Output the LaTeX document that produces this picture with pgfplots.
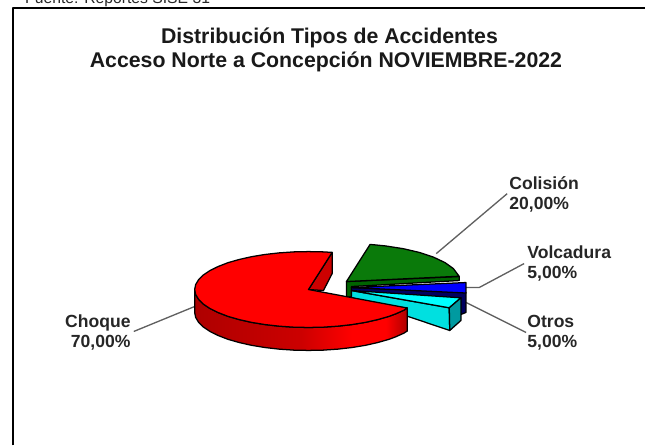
\documentclass[border=0pt]{standalone}
\usepackage{pgfplots}
\pgfplotsset{compat=1.18}
\usepackage{fontspec}
\setmainfont{Liberation Sans}
\definecolor{gTop}{HTML}{0A7A0A}
\definecolor{gDark}{HTML}{006400}
\definecolor{navy}{HTML}{000060}
\definecolor{tur}{HTML}{00E0E0}
\definecolor{bright}{HTML}{00FFFF}
\definecolor{teal2}{HTML}{009AA0}
\definecolor{pure}{HTML}{FF0000}
\definecolor{rd}{HTML}{AE0000}
\definecolor{rm}{HTML}{CC0000}
\pgfdeclarehorizontalshading{redside}{100bp}{
 color(0bp)=(rd); color(25bp)=(rd); color(50bp)=(rm);
 color(62bp)=(pure); color(70bp)=(pure); color(75bp)=(rd); color(100bp)=(rd)}
\begin{document}
\begin{tikzpicture}[x=0.75pt,y=0.75pt]
\begin{axis}[
  at={(0,0)},anchor=south west,
  width=484.5pt,height=334.5pt,scale only axis,
  xmin=0,xmax=646,ymin=0,ymax=446,y dir=reverse,
  axis lines=none,clip=false,
  every axis plot/.append style={line join=round,line width=0.95pt}]
% frame
\addplot[black,line width=1.6pt] coordinates {(13,446)(13,8)(646,8)};
% leader lines
\addplot[gray!75!black,line width=1pt] coordinates {(437,254)(508,194)};
\addplot[gray!75!black,line width=1pt] coordinates {(467,288)(480,288)(525,264)};
\addplot[gray!75!black,line width=1pt] coordinates {(467,303)(527,333)};
\addplot[gray!75!black,line width=1pt] coordinates {(195,307)(134,332)};
% Colision
\addplot[fill=gDark,draw=black] coordinates {(347,282)(460,277)(460,281)(352,287)(352,297)(347,298)} --cycle;
\addplot[fill=gTop,draw=black] coordinates {(347,282)(370.7,244.8)(386,246.3)(404,249.1)(420.3,252.9)(434.3,257.6)(445.7,263)(454.1,269)(459.9,276.7)} --cycle;
% Volcadura
\addplot[fill=navy,draw=black] coordinates {(352,288)(466.7,293)(466.7,313)(461.7,315)(352,298)} --cycle;
\addplot[fill=blue,draw=black] coordinates {(352,288)(466.7,283)(466.7,293.5)} --cycle;
% Otros
\addplot[fill=tur,draw=black] coordinates {(352,291)(450,308.3)(450.5,331)(352,298)} --cycle;
\addplot[fill=bright,draw=black] coordinates {(352,291)(461.7,298.3)(450,308.3)} --cycle;
\addplot[fill=teal2,draw=black] coordinates {(450,308.3)(461.7,298.3)(461.7,321)(450.5,331)} --cycle;
% Choque
\addplot[fill=rm,draw=black] coordinates {(332.7,252.8)(332.7,274)(324,291)(309,290)} --cycle;
\addplot[shade,shading=redside,draw=black] coordinates {(195,290)(196,295)(198.9,299.8)(203.7,304.6)(210.3,309)(218.6,313.1)(228.4,316.9)(239.6,320.1)(252,322.9)(265.4,325.1)(279.5,326.7)(294.1,327.7)(309,328)(323.9,327.7)(338.5,326.7)(352.7,325.1)(366,322.9)(378.4,320.1)(389.6,316.9)(396.3,314.4)(404.6,310.7)(408,308.5)(408,331.5)(404.6,333.7)(396.3,337.4)(389.6,339.9)(378.4,343.1)(366,345.9)(352.7,348.1)(338.5,349.7)(323.9,350.7)(309,351)(294.1,350.7)(279.5,349.7)(265.4,348.1)(252,345.9)(239.6,343.1)(228.4,339.9)(218.6,336.1)(210.3,332)(203.7,327.6)(198.9,322.8)(196,318)(195,313)} --cycle;
\addplot[fill=pure,draw=black] coordinates {(309,290)(332.7,252.8)(323.9,252.3)(309,252)(294.1,252.3)(279.5,253.3)(265.4,254.9)(252,257.1)(239.6,259.9)(228.4,263.1)(218.6,266.9)(210.3,271)(203.7,275.4)(198.9,280.2)(196,285)(195,290)(196,295)(198.9,299.8)(203.7,304.6)(210.3,309)(218.6,313.1)(228.4,316.9)(239.6,320.1)(252,322.9)(265.4,325.1)(279.5,326.7)(294.1,327.7)(309,328)(323.9,327.7)(338.5,326.7)(352.7,325.1)(366,322.9)(378.4,320.1)(389.6,316.9)(396.3,314.4)(404.6,310.7)(408,308.5)} --cycle;
\end{axis}
\path[use as bounding box] (0,0) rectangle (646,446);
\def\Y#1{446-#1}
\begin{scope}
\clip (0,0) rectangle (646,446);
\node[anchor=base west,inner sep=0pt,font=\fontsize{11.8pt}{14pt}\selectfont,text=black!85] at (25,{\Y{4}}) {Fuente: Reportes SISE 31};
\end{scope}
\tikzset{ttl/.style={font=\bfseries\fontsize{16pt}{19pt}\selectfont,text=black!90,inner sep=0pt}}
\node[ttl] at (330,{\Y{37.5}}) {Distribución Tipos de Accidentes};
\node[ttl] at (326.5,{\Y{62.5}}) {Acceso Norte a Concepción NOVIEMBRE-2022};
\tikzset{lab/.style={font=\bfseries\fontsize{13.2pt}{15pt}\selectfont,text=black!85,align=left,anchor=west,inner sep=0pt}}
\node[lab] at (510,{\Y{195}}) {Colisión\\20,00\%};
\node[lab] at (528,{\Y{264}}) {Volcadura\\5,00\%};
\node[lab] at (528,{\Y{333.5}}) {Otros\\5,00\%};
\node[lab,align=right,anchor=east] at (131,{\Y{333.5}}) {Choque\\70,00\%};
\end{tikzpicture}
\end{document}
